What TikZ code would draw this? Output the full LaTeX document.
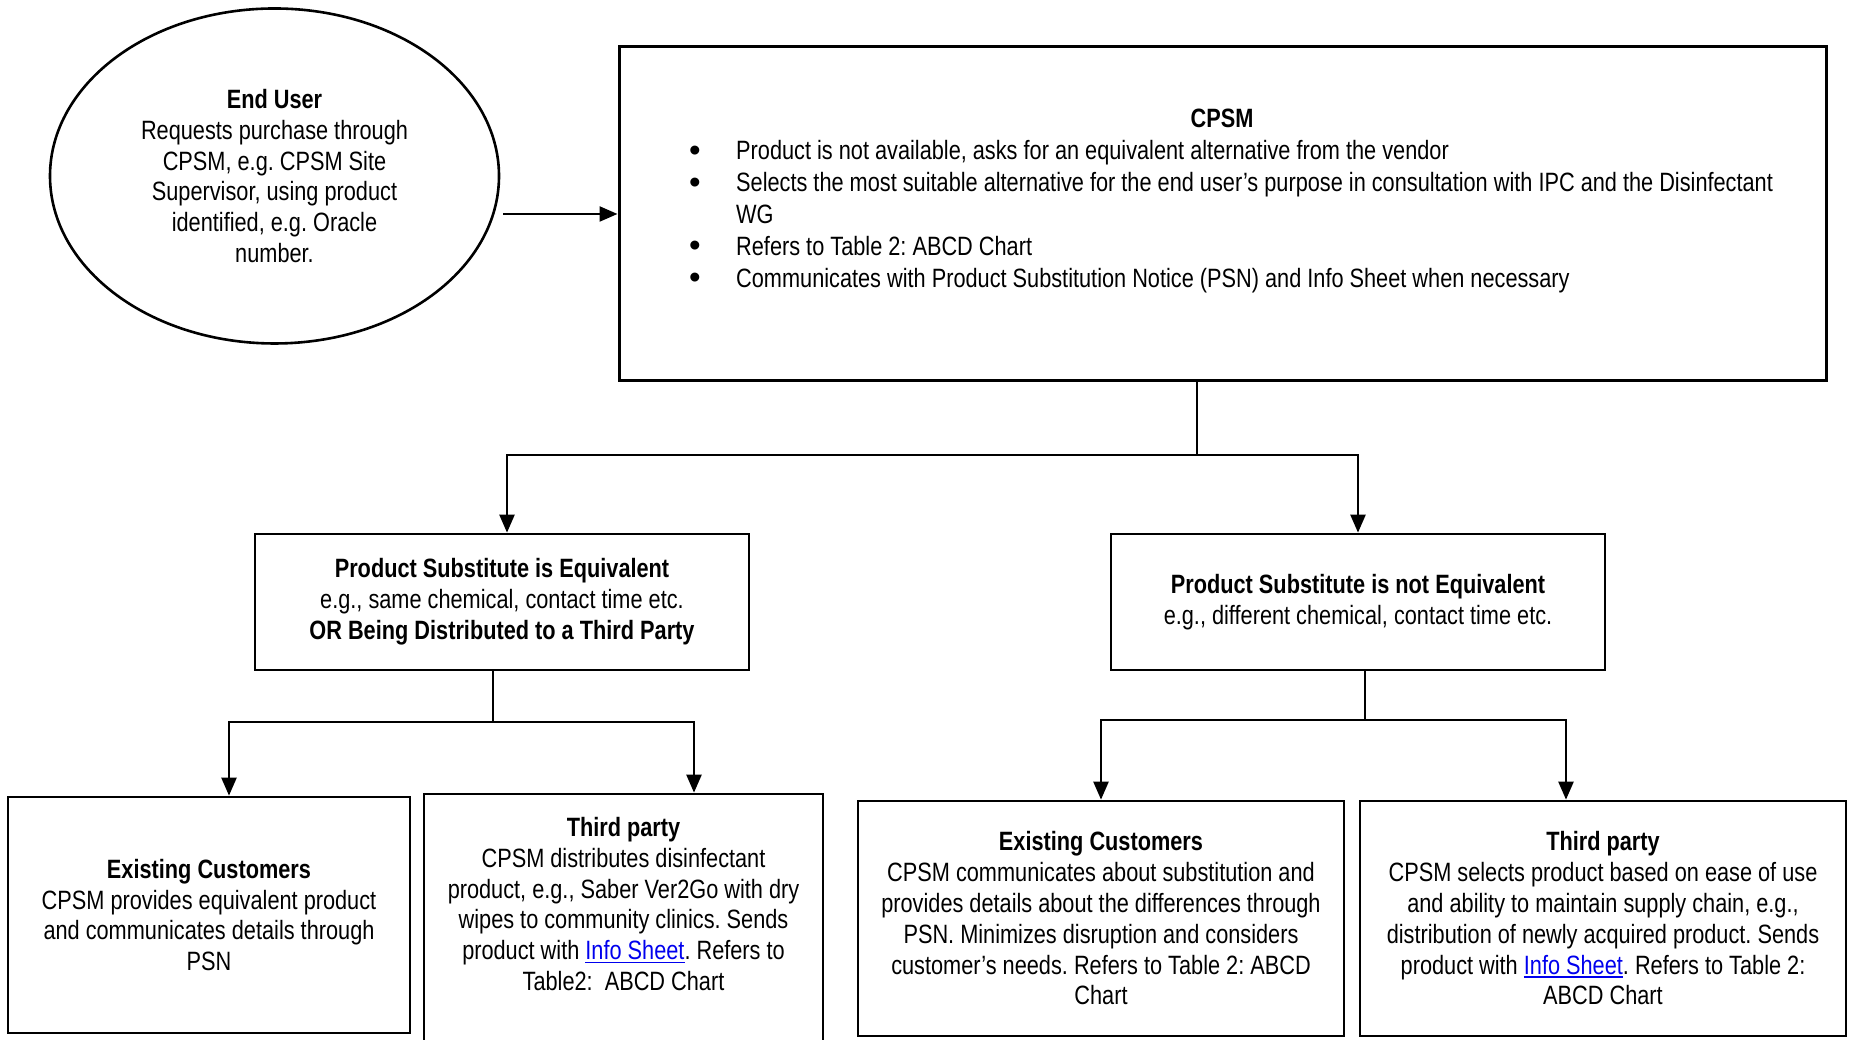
\documentclass[tikz,border=0pt]{standalone}
\usepackage{fontspec}
\setmainfont{Liberation Sans}[FakeStretch=0.82]
\newfontfamily\bulletfont{Liberation Sans}
\usetikzlibrary{arrows.meta,shapes.geometric}
\definecolor{linkblue}{RGB}{0,0,238}
\newcommand\lnk[1]{{\color{linkblue}\setbox0\hbox{#1}\rlap{\rule[-3.5pt]{\wd0}{1.6pt}}\box0}}
\newcommand\blt{\makebox[46pt][l]{\hspace*{-1pt}\raisebox{-1.5pt}{\bulletfont\fontsize{33}{33}\selectfont\textbullet}}}
\frenchspacing
\begin{document}
\begin{tikzpicture}[x=1pt,y=1pt,
  txt/.style={font=\fontsize{26.5}{30.8}\selectfont, align=center, inner sep=0pt},
  box/.style={draw, line width=2.7pt, rectangle, inner sep=0pt},
  conn/.style={line width=2.4pt},
  arr/.style={conn, -{Triangle[length=18pt,width=15pt]}}]
\useasboundingbox (0,0) rectangle (1853,1040);
\fill[white] (0,0) rectangle (1853,1040);
\clip (0,0) rectangle (1853,1040);

\node[draw, ellipse, line width=2.6pt, minimum width=449pt, minimum height=335pt, txt] (enduser) at (274.5,864)
  {\textbf{End User}\\Requests purchase through\\CPSM, e.g. CPSM Site\\Supervisor, using product\\identified, e.g. Oracle\\number.};

\node[box, line width=3pt, minimum width=1207pt, minimum height=334pt] (cpsm) at (1222.5,826) {};
\node[txt, font=\fontsize{26.5}{30.8}\selectfont\bfseries] (cpsmtitle) at (1222,922) {CPSM};
\node[txt, align=left, anchor=west, font=\fontsize{26.5}{31.8}\selectfont] (cpsmlist) at (690,823.3)
  {\blt Product is not available, asks for an equivalent alternative from the vendor\\
   \blt Selects the most suitable alternative for the end user’s purpose in consultation with IPC and the Disinfectant\\
   \hspace*{46pt}WG\\
   \blt Refers to Table 2: ABCD Chart\\
   \blt Communicates with Product Substitution Notice (PSN) and Info Sheet when necessary};

\node[box, txt, minimum width=494pt, minimum height=136pt] (midL) at (502,438)
  {\textbf{Product Substitute is Equivalent}\\e.g., same chemical, contact time etc.\\\textbf{OR Being Distributed to a Third Party}};
\node[box, txt, minimum width=494pt, minimum height=136pt] (midR) at (1358,438)
  {\textbf{Product Substitute is not Equivalent}\\e.g., different chemical, contact time etc.};

\node[box, txt, minimum width=402pt, minimum height=236pt] (exL) at (209,125)
  {\textbf{Existing Customers}\\CPSM provides equivalent product\\and communicates details through\\PSN};
\node[box, minimum width=399pt, minimum height=251pt] (tpL) at (623.5,120.5) {};
\node[txt] (tpLtext) at (623.5,136)
  {\textbf{Third party}\\CPSM distributes disinfectant\\product, e.g., Saber Ver2Go with dry\\wipes to community clinics. Sends\\product with \lnk{Info Sheet}. Refers to\\Table2:\ \ ABCD Chart};
\node[box, txt, minimum width=486pt, minimum height=235pt] (exR) at (1101,121.5)
  {\textbf{Existing Customers}\\CPSM communicates about substitution and\\provides details about the differences through\\PSN. Minimizes disruption and considers\\customer’s needs. Refers to Table 2: ABCD\\Chart};
\node[box, txt, minimum width=486pt, minimum height=235pt] (tpR) at (1603,121.5)
  {\textbf{Third party}\\CPSM selects product based on ease of use\\and ability to maintain supply chain, e.g.,\\distribution of newly acquired product. Sends\\product with \lnk{Info Sheet}. Refers to Table 2:\\ABCD Chart};

\coordinate (aS) at ([xshift=3pt]enduser.east);
\draw[arr] (aS |- cpsm.west) -- (cpsm.west);

\coordinate (j1) at (1197,585);
\draw[conn] (j1 |- cpsm.south) -- (j1);
\draw[arr] (j1) -| ([xshift=5pt]midL.north);
\draw[arr] (j1) -| (midR.north);

\coordinate (j2) at (493,318);
\draw[conn] (j2 |- midL.south) -- (j2);
\draw[arr] (j2) -| ([xshift=20pt]exL.north);
\draw[arr] (j2) -| ([xshift=70.5pt]tpL.north);

\coordinate (j3) at (1365,320);
\draw[conn] (j3 |- midR.south) -- (j3);
\draw[arr] (j3) -| (exR.north);
\draw[arr] (j3) -| ([xshift=-37pt]tpR.north);
\end{tikzpicture}
\end{document}
